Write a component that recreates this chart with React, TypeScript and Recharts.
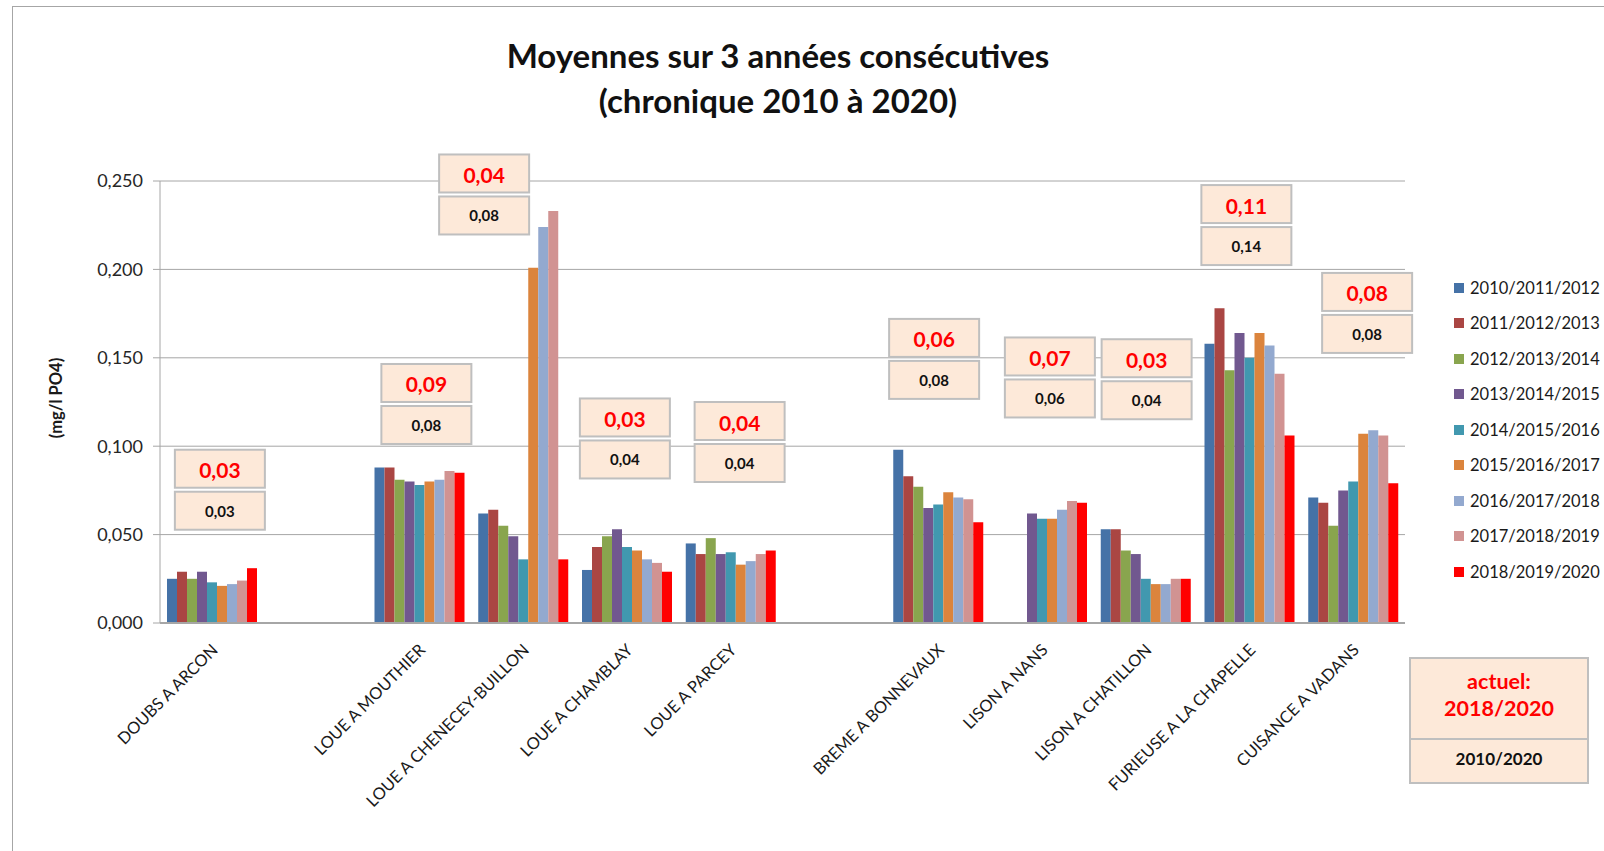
import React from "react";
import { BarChart, Bar, XAxis, YAxis, CartesianGrid, Legend, ReferenceDot } from "recharts";

// sites (blank entries = empty slots between river groups)
const SITES = [
  "DOUBS A ARCON", " ", "LOUE A MOUTHIER", "LOUE A CHENECEY-BUILLON", "LOUE A CHAMBLAY",
  "LOUE A PARCEY", "  ", "BREME A BONNEVAUX", "LISON A NANS", "LISON A CHATILLON",
  "FURIEUSE A LA CHAPELLE", "CUISANCE A VADANS",
];

const PERIODS = [
  "2010/2011/2012", "2011/2012/2013", "2012/2013/2014", "2013/2014/2015", "2014/2015/2016",
  "2015/2016/2017", "2016/2017/2018", "2017/2018/2019", "2018/2019/2020",
];

const P2010_2012 = [0.025, null, 0.088, 0.062, 0.030, 0.045, null, 0.098, null, 0.053, 0.158, 0.071];
const P2011_2013 = [0.029, null, 0.088, 0.064, 0.043, 0.039, null, 0.083, null, 0.053, 0.178, 0.068];
const P2012_2014 = [0.025, null, 0.081, 0.055, 0.049, 0.048, null, 0.077, null, 0.041, 0.143, 0.055];
const P2013_2015 = [0.029, null, 0.080, 0.049, 0.053, 0.039, null, 0.065, 0.062, 0.039, 0.164, 0.075];
const P2014_2016 = [0.023, null, 0.078, 0.036, 0.043, 0.040, null, 0.067, 0.059, 0.025, 0.150, 0.080];
const P2015_2017 = [0.021, null, 0.080, 0.201, 0.041, 0.033, null, 0.074, 0.059, 0.022, 0.164, 0.107];
const P2016_2018 = [0.022, null, 0.081, 0.224, 0.036, 0.035, null, 0.071, 0.064, 0.022, 0.157, 0.109];
const P2017_2019 = [0.024, null, 0.086, 0.233, 0.034, 0.039, null, 0.070, 0.069, 0.025, 0.141, 0.106];
const P2018_2020 = [0.031, null, 0.085, 0.036, 0.029, 0.041, null, 0.057, 0.068, 0.025, 0.106, 0.079];

const SERIES = [P2010_2012, P2011_2013, P2012_2014, P2013_2015, P2014_2016, P2015_2017, P2016_2018, P2017_2019, P2018_2020];

// boxed values above each site: current (2018/2020) and whole period (2010/2020)
const ACTUEL = ["0,03", "", "0,09", "0,04", "0,03", "0,04", "", "0,06", "0,07", "0,03", "0,11", "0,08"];
const PERIODE = ["0,03", "", "0,08", "0,08", "0,04", "0,04", "", "0,08", "0,06", "0,04", "0,14", "0,08"];

const Y_TICKS = [0, 0.05, 0.1, 0.15, 0.2, 0.25];

const COLORS = ["#4572A7", "#AA4643", "#89A54E", "#71588F", "#4198AF", "#DB843D", "#93A9CF", "#D19392", "#FF0000"];

// where the boxes sit: top in axis units, horizontal nudge in px
const BOX_TOP = [0.098, 0, 0.1465, 0.265, 0.127, 0.125, 0, 0.172, 0.1615, 0.1605, 0.2477, 0.198];
const BOX_DX = [8, 0, 7, -39, -2, 9, 0, -4, 8, 1, -3, 14];

const FONT = "Lato, 'Open Sans', sans-serif";
const BOX_FILL = "#FDE9D9";
const BOX_STROKE = "#BFBFBF";

const data = SITES.map((site, i) => {
  const row: Record<string, string | number | null> = { site };
  SERIES.forEach((s, k) => { row["s" + k] = s[i]; });
  return row;
});

const fmt = (v: number) => v.toFixed(3).replace(".", ",");

function SiteTick(props: any) {
  const { x, y, payload } = props;
  const label = String(payload.value).trim();
  if (!label) return null;
  return (
    <text x={x + 7} y={y + 20} transform={`rotate(-45 ${x + 7} ${y + 20})`} textAnchor="end"
      fontFamily={FONT} fontSize={16.5} fill="#1a1a1a">
      {label}
    </text>
  );
}

function YTitle(props: any) {
  const { viewBox } = props;
  const cx = 56;
  const cy = viewBox.y + viewBox.height / 2 - 4;
  return (
    <text x={cx} y={cy} transform={`rotate(-90 ${cx} ${cy})`} textAnchor="middle"
      dominantBaseline="central" fontFamily={FONT} fontSize={16.5} fontWeight={700} fill="#1a1a1a">
      (mg/l PO4)
    </text>
  );
}

function makeBoxes(i: number) {
  return (p: any) => {
    const x0 = p.cx + BOX_DX[i] - 45;
    const y0 = p.cy;
    return (
      <g>
        <rect x={x0} y={y0} width={90} height={38} fill={BOX_FILL} stroke={BOX_STROKE} strokeWidth={2} />
        <text x={x0 + 45} y={y0 + 20} textAnchor="middle" dominantBaseline="central"
          fontFamily={FONT} fontSize={21} fontWeight={700} fill="#FF0000">{ACTUEL[i]}</text>
        <rect x={x0} y={y0 + 42} width={90} height={38} fill={BOX_FILL} stroke={BOX_STROKE} strokeWidth={2} />
        <text x={x0 + 45} y={y0 + 61} textAnchor="middle" dominantBaseline="central"
          fontFamily={FONT} fontSize={15} fontWeight={700} fill="#111">{PERIODE[i]}</text>
      </g>
    );
  };
}

function LegendList(props: any) {
  const { payload } = props;
  return (
    <div style={{ fontFamily: FONT, fontSize: 16.5, color: "#1a1a1a" }}>
      {(payload || []).map((e: any) => (
        <div key={e.value} style={{ height: 35.5, display: "flex", alignItems: "center", whiteSpace: "nowrap" }}>
          <span style={{ display: "inline-block", width: 10, height: 10, background: e.color, marginRight: 6 }} />
          {e.value}
        </div>
      ))}
    </div>
  );
}

export default function App() {
  return (
    <div style={{ position: "absolute", left: 0, top: 0, width: 1604, height: 851, background: "#fff", overflow: "hidden", fontFamily: FONT }}>
      <div style={{ position: "absolute", left: 12, top: 6, width: 1700, height: 900, border: "1px solid #A6A6A6" }} />
      <div style={{ position: "absolute", left: 0, width: 1556, top: 33, textAlign: "center", fontSize: 33, fontWeight: 700, lineHeight: "45px", color: "#111" }}>
        Moyennes sur 3 années consécutives<br />(chronique 2010 à 2020)
      </div>
      <div style={{ position: "absolute", left: 0, top: 0 }}>
        <BarChart width={1604} height={851} data={data} barCategoryGap="7%" barGap={0} barSize={10}
          margin={{ top: 181, right: 199, left: 0, bottom: 28 }}>
          <CartesianGrid vertical={false} stroke="#A6A6A6" strokeWidth={1} />
          <XAxis dataKey="site" interval={0} height={200} tick={<SiteTick />} tickLine={false}
            axisLine={{ stroke: "#A6A6A6", strokeWidth: 2 }} />
          <YAxis width={160} domain={[0, 0.25]} ticks={Y_TICKS} tickFormatter={fmt} interval={0}
            tick={{ fontFamily: FONT, fontSize: 18, fill: "#262626" }} tickSize={7} tickMargin={10}
            tickLine={{ stroke: "#A6A6A6" }} axisLine={{ stroke: "#A6A6A6" }}
            label={<YTitle />} />
          <Legend layout="vertical" align="center" verticalAlign="middle" content={<LegendList />}
            wrapperStyle={{ left: 1454, top: 270, width: 148, height: 330 }} />
          {PERIODS.map((name, k) => (
            <Bar key={name} dataKey={"s" + k} name={name} fill={COLORS[k]} isAnimationActive={false} />
          ))}
          {SITES.map((site, i) => ACTUEL[i] ? (
            <ReferenceDot key={"box" + i} x={site} y={BOX_TOP[i]} r={1} ifOverflow="visible"
              shape={makeBoxes(i)} />
          ) : null)}
        </BarChart>
      </div>
      <div style={{ position: "absolute", left: 1409, top: 657, width: 176, border: "2px solid #BFBFBF", background: BOX_FILL, textAlign: "center", fontWeight: 700 }}>
        <div style={{ height: 79, color: "#FF0000", fontSize: 21.5, lineHeight: "27px", paddingTop: 9, boxSizing: "border-box" }}>
          actuel:<br />2018/2020
        </div>
        <div style={{ borderTop: "2px solid #BFBFBF", height: 42, lineHeight: "38px", fontSize: 17, color: "#111" }}>
          2010/2020
        </div>
      </div>
    </div>
  );
}
